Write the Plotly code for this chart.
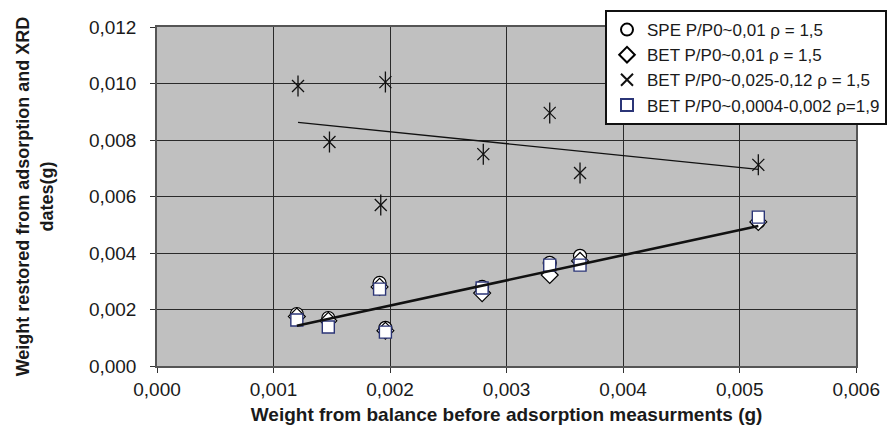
import numpy as np
import plotly.graph_objects as go

# Weight from balance before adsorption measurements (g)
x_spe = [0.00120, 0.00147, 0.00191, 0.00196, 0.00279, 0.00337, 0.00363, 0.00516]
y_spe = [0.00184, 0.00170, 0.00294, 0.00135, 0.00280, 0.00365, 0.00390, 0.00510]

x_bet = [0.00120, 0.00147, 0.00191, 0.00196, 0.00279, 0.00337, 0.00363, 0.00516]
y_bet = [0.00175, 0.00160, 0.00280, 0.00125, 0.00258, 0.00322, 0.00372, 0.00510]

x_bet_hi = [0.00121, 0.00148, 0.00192, 0.00196, 0.00280, 0.00337, 0.00363, 0.00516]
y_bet_hi = [0.00991, 0.00793, 0.00570, 0.01005, 0.00750, 0.00896, 0.00683, 0.00712]

x_bet_lo = [0.00120, 0.00147, 0.00191, 0.00196, 0.00279, 0.00337, 0.00363, 0.00516]
y_bet_lo = [0.00163, 0.00138, 0.00272, 0.00120, 0.00276, 0.00357, 0.00357, 0.00527]

names = [
    "SPE P/P0~0,01 ρ = 1,5",
    "BET P/P0~0,01 ρ = 1,5",
    "BET P/P0~0,025-0,12 ρ = 1,5",
    "BET P/P0~0,0004-0,002 ρ=1,9",
]

x_ticks = [0, 0.001, 0.002, 0.003, 0.004, 0.005, 0.006]
y_ticks = [0, 0.002, 0.004, 0.006, 0.008, 0.010, 0.012]

FONT = "Liberation Sans, Arial, sans-serif"
INK = "#1a1a1a"

W, H = 887, 438
ML, MR, MT, MB = 157, 0, 27, 72
PLOT_RIGHT = 862          # right edge of the plotting area in px
paper_w = W - ML - MR

fig = go.Figure()

fig.add_trace(go.Scatter(
    x=x_spe, y=y_spe, mode="markers", name=names[0], legendgroup="g1",
    marker=dict(symbol="circle", size=13, color="white",
                line=dict(color="black", width=1.2)),
))
fig.add_trace(go.Scatter(
    x=x_bet, y=y_bet, mode="markers", name=names[1], legendgroup="g2",
    marker=dict(symbol="diamond", size=13, color="white",
                line=dict(color="black", width=1.2)),
))
# six-armed star: an x plus a vertical stroke
fig.add_trace(go.Scatter(
    x=x_bet_hi, y=y_bet_hi, mode="markers", name=names[2], legendgroup="g3",
    marker=dict(symbol="x-thin-open", size=12, color="#111111",
                line=dict(color="#111111", width=1.3)),
))
fig.add_trace(go.Scatter(
    x=x_bet_hi, y=y_bet_hi, mode="markers", showlegend=False, legendgroup="g3",
    hoverinfo="skip",
    marker=dict(symbol="line-ns-open", size=15, color="#111111",
                line=dict(color="#111111", width=1.3)),
))
fig.add_trace(go.Scatter(
    x=x_bet_lo, y=y_bet_lo, mode="markers", name=names[3], legendgroup="g4",
    marker=dict(symbol="square", size=12, color="white",
                line=dict(color="#2b3577", width=1.4)),
))

# linear trend lines
def trend(xs, ys):
    k, b = np.polyfit(xs, ys, 1)
    xe = np.array([min(xs), max(xs)])
    return xe, k * xe + b

tx, ty = trend(x_bet_hi, y_bet_hi)
fig.add_trace(go.Scatter(x=tx, y=ty, mode="lines", showlegend=False, hoverinfo="skip",
                         line=dict(color="#111111", width=1.3)))
tx, ty = trend(x_bet, y_bet)
fig.add_trace(go.Scatter(x=tx, y=ty, mode="lines", showlegend=False, hoverinfo="skip",
                         line=dict(color="#111111", width=2.6)))

axis_common = dict(
    showgrid=True, gridcolor="#2a2a2a", gridwidth=1, automargin=False,
    zeroline=False, showline=True, linecolor="#555555", linewidth=1.5, mirror=True,
    ticks="outside", ticklen=5, tickcolor="#333333",
    tickfont=dict(family=FONT, size=19, color=INK),
    tickformat=".3f",
)

fig.update_layout(
    width=W, height=H,
    margin=dict(l=ML, r=MR, t=MT, b=MB),
    paper_bgcolor="white", plot_bgcolor="#c0c0c0",
    separators=", ",
    font=dict(family=FONT, color=INK),
    xaxis=dict(range=[0, 0.006], tickvals=x_ticks, domain=[0, (PLOT_RIGHT - ML) / paper_w],
               **axis_common,
               title=dict(text="<b>Weight from balance before adsorption measurments (g)</b>",
                          font=dict(family=FONT, size=19, color=INK), standoff=9)),
    yaxis=dict(range=[0, 0.012], tickvals=y_ticks, ticklabelstandoff=10, **axis_common,
               title=dict(text="<b>Weight restored from adsorption and XRD<br>dates(g)</b>",
                          font=dict(family=FONT, size=18, color=INK), standoff=31)),
    legend=dict(
        x=(609 - ML) / paper_w, y=1.05, xanchor="left", yanchor="top",
        bgcolor="white", bordercolor="#111111", borderwidth=2,
        font=dict(family=FONT, size=17, color=INK),
        traceorder="grouped", tracegroupgap=0, itemsizing="constant",
    ),
)

fig.write_html("out.html")
